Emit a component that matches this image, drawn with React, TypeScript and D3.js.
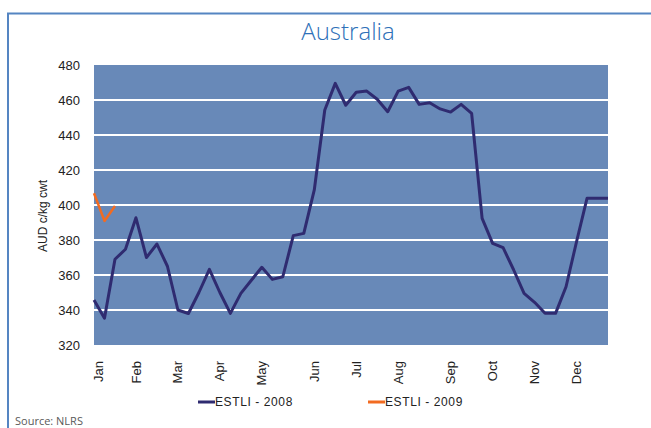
import React from "react";
import * as d3 from "d3";

const estli2008: number[] = [
  345.7, 335.3, 369, 374.7, 392.7, 370, 377.7, 365, 340, 338,
  350, 363.2, 350, 338.1, 349.5, 357, 364.4, 357.5, 359, 382.5,
  383.8, 408.6, 454.3, 469.5, 457, 464.4, 465.1, 460.4, 453.3, 465.1,
  467.2, 457.5, 458.4, 454.9, 453.1, 457.5, 452.4, 392.4, 378.1, 375.6,
  363, 349.5, 344.4, 338.1, 338.1, 353.3, 379, 403.8, 403.8, 403.8,
];
const estli2009: number[] = [406.7, 390.9, 399.4];
const monthLabels: string[] = ["Jan", "Feb", "Mar", "Apr", "May", "Jun", "Jul", "Aug", "Sep", "Oct", "Nov", "Dec"];
const monthWeekIndex: number[] = [0, 4, 8, 12, 16, 21, 25, 29, 34, 38, 42, 46];
const yTicks: number[] = [320, 340, 360, 380, 400, 420, 440, 460, 480];
const seriesNames: string[] = ["ESTLI - 2008", "ESTLI - 2009"];

const W = 651;
const H = 428;
const plot = { left: 94, right: 608, top: 65, bottom: 345 };
const narrow = "'Liberation Sans Narrow', 'Arial Narrow', 'Liberation Sans', sans-serif";

export default function App() {
  const x = d3.scaleLinear().domain([0, estli2008.length - 1]).range([plot.left, plot.right]);
  const y = d3.scaleLinear().domain([320, 480]).range([plot.bottom, plot.top]);
  const line = d3
    .line<number>()
    .x((_, i) => x(i))
    .y((d) => y(d));

  return (
    <svg width={W} height={H} style={{ position: "absolute", left: 0, top: 0 }}>
      <rect x={0} y={0} width={W} height={H} fill="#ffffff" />
      {/* outer frame */}
      <path d={`M8,${H + 5} L8,13.5 L${W + 5},13.5`} fill="none" stroke="#5585C2" strokeWidth={2} />
      <text
        x={348}
        y={40}
        textAnchor="middle"
        fontFamily="'Open Sans', 'Noto Sans', sans-serif"
        fontWeight={300}
        fontSize={24}
        fill="#2E70B8"
      >
        Australia
      </text>
      {/* plot area */}
      <rect
        x={plot.left}
        y={plot.top}
        width={plot.right - plot.left}
        height={plot.bottom - plot.top}
        fill="#6889B8"
      />
      {yTicks
        .filter((t) => t !== 320 && t !== 480)
        .map((t) => (
          <line key={t} x1={plot.left} x2={plot.right} y1={y(t)} y2={y(t)} stroke="#ffffff" strokeWidth={2} />
        ))}
      {yTicks.map((t) => (
        <text
          key={"yl" + t}
          x={80}
          y={y(t)}
          dy="0.35em"
          textAnchor="end"
          fontFamily={narrow}
          fontSize={13}
          fill="#222222"
        >
          {t}
        </text>
      ))}
      <text
        transform={`translate(47,216) rotate(-90)`}
        textAnchor="middle"
        fontFamily="'Liberation Sans', Arial, sans-serif"
        fontSize={12}
        fill="#222222"
      >
        AUD c/kg cwt
      </text>
      {monthLabels.map((m, i) => (
        <text
          key={m}
          transform={`translate(${Math.max(x(monthWeekIndex[i]), 98)},361) rotate(-90)`}
          dy="0.35em"
          textAnchor="end"
          fontFamily={narrow}
          fontSize={13}
          fill="#222222"
        >
          {m}
        </text>
      ))}
      <path d={line(estli2008) || ""} fill="none" stroke="#2F2B70" strokeWidth={3} strokeLinejoin="round" />
      <path d={line(estli2009) || ""} fill="none" stroke="#F26B21" strokeWidth={2.5} strokeLinejoin="round" />
      {/* legend */}
      {seriesNames.map((s, i) => {
        const lx = i === 0 ? 198 : 368;
        return (
          <g key={s}>
            <line x1={lx} x2={lx + 17} y1={402} y2={402} stroke={i === 0 ? "#2F2B70" : "#F26B21"} strokeWidth={3} />
            <text
              x={lx + 17}
              y={402}
              dy="0.35em"
              fontFamily={narrow}
              fontSize={12}
              letterSpacing={0.6}
              fill="#222222"
            >
              {s}
            </text>
          </g>
        );
      })}
      <text x={15} y={425} fontFamily="'Open Sans', 'Noto Sans', sans-serif" fontSize={11} fill="#595959">
        Source: NLRS
      </text>
    </svg>
  );
}
